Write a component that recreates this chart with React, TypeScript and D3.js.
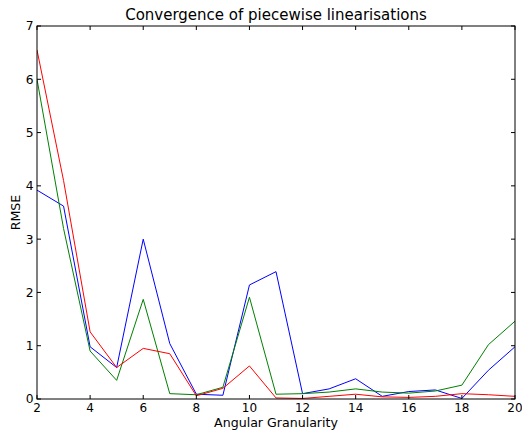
import React from "react";
import * as d3 from "d3";

const granularity = [2, 3, 4, 5, 6, 7, 8, 9, 10, 11, 12, 13, 14, 15, 16, 17, 18, 19, 20];
const blueSeries = [3.92, 3.62, 0.98, 0.59, 3.0, 1.04, 0.09, 0.07, 2.14, 2.39, 0.1, 0.19, 0.38, 0.05, 0.14, 0.17, 0.01, 0.54, 0.98];
const greenSeries = [6.0, 3.2, 0.9, 0.35, 1.87, 0.1, 0.08, 0.22, 1.91, 0.09, 0.1, 0.13, 0.19, 0.13, 0.11, 0.15, 0.26, 1.02, 1.46];
const redSeries = [6.55, 4.1, 1.26, 0.59, 0.95, 0.85, 0.06, 0.2, 0.62, 0.02, 0.01, 0.05, 0.09, 0.04, 0.03, 0.05, 0.1, 0.08, 0.05];
const xTicks = [2, 4, 6, 8, 10, 12, 14, 16, 18, 20];
const yTicks = [0, 1, 2, 3, 4, 5, 6, 7];

const W = 522;
const H = 430;
const left = 37;
const right = 515;
const top = 26;
const bottom = 399;
const FONT = "DejaVu Sans, sans-serif";

export default function App() {
  const x = d3.scaleLinear().domain([2, 20]).range([left, right]);
  const y = d3.scaleLinear().domain([0, 7]).range([bottom, top]);
  const line = d3
    .line<number>()
    .x((_, i) => x(granularity[i]))
    .y((d) => y(d));
  const series = [
    { values: blueSeries, color: "#0000ff" },
    { values: greenSeries, color: "#008000" },
    { values: redSeries, color: "#ff0000" },
  ];
  return (
    <svg
      width={W}
      height={H}
      style={{ position: "absolute", left: 0, top: 0, background: "#fff" }}
      fontFamily={FONT}
    >
      <rect x={0} y={0} width={W} height={H} fill="#fff" />
      <defs>
        <clipPath id="plotclip">
          <rect x={left} y={top} width={right - left} height={bottom - top} />
        </clipPath>
      </defs>
      <g clipPath="url(#plotclip)">
        {series.map((s, i) => (
          <path key={i} d={line(s.values) || ""} fill="none" stroke={s.color} strokeWidth={1} />
        ))}
      </g>
      <rect x={left} y={top} width={right - left} height={bottom - top} fill="none" stroke="#000" strokeWidth={1} />
      {xTicks.map((t) => (
        <g key={"x" + t}>
          <line x1={x(t)} x2={x(t)} y1={bottom} y2={bottom - 4} stroke="#000" />
          <line x1={x(t)} x2={x(t)} y1={top} y2={top + 4} stroke="#000" />
          <text x={x(t)} y={412} textAnchor="middle" fontSize={12} fill="#000">
            {t}
          </text>
        </g>
      ))}
      {yTicks.map((t) => (
        <g key={"y" + t}>
          <line x1={left} x2={left + 4} y1={y(t)} y2={y(t)} stroke="#000" />
          <line x1={right} x2={right - 4} y1={y(t)} y2={y(t)} stroke="#000" />
          <text x={33.5} y={y(t) + 4.4} textAnchor="end" fontSize={12.3} fill="#000">
            {t}
          </text>
        </g>
      ))}
      <text x={(left + right) / 2} y={20} textAnchor="middle" fontSize={15} fill="#000">
        Convergence of piecewise linearisations
      </text>
      <text x={(left + right) / 2} y={427} textAnchor="middle" fontSize={12.6} fill="#000">
        Angular Granularity
      </text>
      <text
        x={0}
        y={0}
        transform={`translate(19.5, ${(top + bottom) / 2}) rotate(-90)`}
        textAnchor="middle"
        fontSize={12.6}
        fill="#000"
      >
        RMSE
      </text>
    </svg>
  );
}
